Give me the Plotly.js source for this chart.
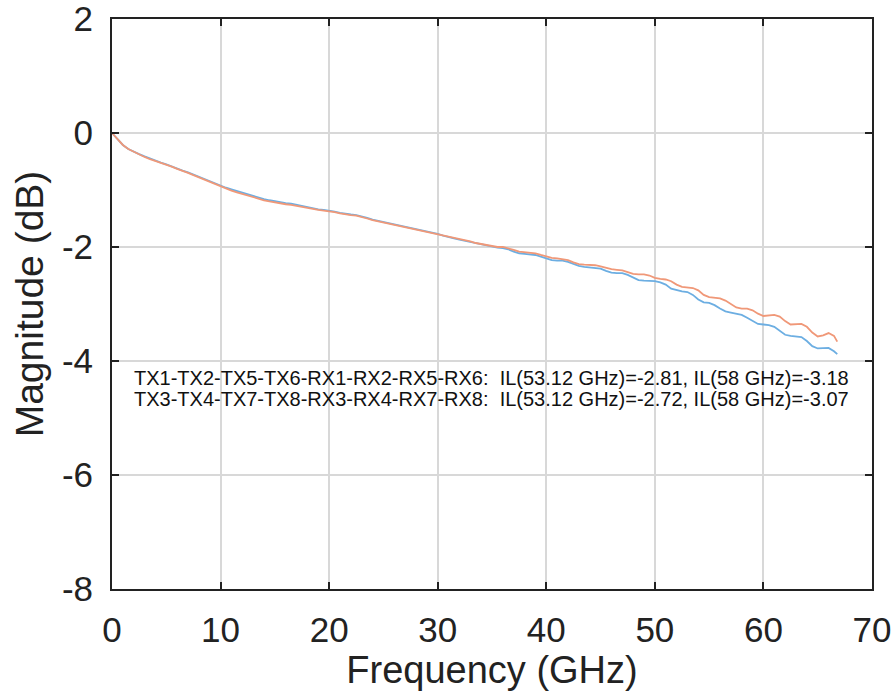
<!DOCTYPE html>
<html>
<head>
<meta charset="utf-8">
<script src="https://cdn.plot.ly/plotly-3.0.1.min.js"></script>
<style>html,body{margin:0;padding:0;background:#fff;}#chart{width:891px;height:698px;}</style>
</head>
<body>
<div id="chart"></div>
<script>
// Frequency (GHz), 0.5 GHz steps
const freq = [0,0.5,1,1.5,2,2.5,3,3.5,4,4.5,5,5.5,6,6.5,7,7.5,8,8.5,9,9.5,10,10.5,11,11.5,12,12.5,13,13.5,14,14.5,15,15.5,16,16.5,17,17.5,18,18.5,19,19.5,20,20.5,21,21.5,22,22.5,23,23.5,24,24.5,25,25.5,26,26.5,27,27.5,28,28.5,29,29.5,30,30.5,31,31.5,32,32.5,33,33.5,34,34.5,35,35.5,36,36.5,37,37.5,38,38.5,39,39.5,40,40.5,41,41.5,42,42.5,43,43.5,44,44.5,45,45.5,46,46.5,47,47.5,48,48.5,49,49.5,50,50.5,51,51.5,52,52.5,53,53.5,54,54.5,55,55.5,56,56.5,57,57.5,58,58.5,59,59.5,60,60.5,61,61.5,62,62.5,63,63.5,64,64.5,65,65.5,66,66.5,66.8];

// TX1-TX2-TX5-TX6-RX1-RX2-RX5-RX6 (blue)
const ilGroupA = [0,-0.11,-0.21,-0.28,-0.33,-0.37,-0.41,-0.45,-0.49,-0.52,-0.55,-0.59,-0.62,-0.66,-0.69,-0.73,-0.77,-0.81,-0.85,-0.89,-0.93,-0.96,-0.99,-1.02,-1.05,-1.08,-1.11,-1.14,-1.16,-1.18,-1.20,-1.22,-1.23,-1.24,-1.26,-1.28,-1.31,-1.33,-1.34,-1.35,-1.36,-1.38,-1.40,-1.42,-1.43,-1.44,-1.46,-1.49,-1.52,-1.54,-1.56,-1.58,-1.61,-1.63,-1.65,-1.67,-1.69,-1.71,-1.73,-1.75,-1.77,-1.80,-1.83,-1.85,-1.87,-1.89,-1.91,-1.94,-1.96,-1.98,-2.00,-2.01,-2.02,-2.04,-2.08,-2.11,-2.12,-2.13,-2.14,-2.17,-2.20,-2.23,-2.24,-2.24,-2.26,-2.30,-2.33,-2.35,-2.36,-2.36,-2.38,-2.42,-2.45,-2.46,-2.46,-2.49,-2.54,-2.58,-2.59,-2.59,-2.60,-2.62,-2.66,-2.73,-2.76,-2.78,-2.79,-2.84,-2.92,-2.97,-2.98,-3.02,-3.08,-3.13,-3.15,-3.17,-3.19,-3.24,-3.30,-3.35,-3.36,-3.37,-3.40,-3.47,-3.54,-3.56,-3.57,-3.58,-3.65,-3.74,-3.78,-3.77,-3.77,-3.83,-3.88];

// TX3-TX4-TX7-TX8-RX3-RX4-RX7-RX8 (orange)
const ilGroupB = [0,-0.11,-0.21,-0.28,-0.33,-0.38,-0.42,-0.46,-0.49,-0.53,-0.56,-0.59,-0.63,-0.66,-0.70,-0.74,-0.78,-0.82,-0.86,-0.90,-0.94,-0.98,-1.01,-1.04,-1.07,-1.10,-1.13,-1.16,-1.18,-1.20,-1.22,-1.23,-1.25,-1.26,-1.28,-1.30,-1.32,-1.34,-1.35,-1.36,-1.37,-1.39,-1.41,-1.43,-1.44,-1.45,-1.47,-1.50,-1.53,-1.55,-1.57,-1.59,-1.62,-1.64,-1.66,-1.68,-1.70,-1.72,-1.74,-1.76,-1.77,-1.79,-1.82,-1.84,-1.86,-1.88,-1.90,-1.93,-1.95,-1.97,-1.99,-2.00,-2.00,-2.02,-2.05,-2.08,-2.09,-2.10,-2.11,-2.14,-2.17,-2.19,-2.20,-2.21,-2.23,-2.27,-2.30,-2.31,-2.31,-2.32,-2.34,-2.37,-2.39,-2.40,-2.41,-2.44,-2.47,-2.48,-2.48,-2.50,-2.54,-2.56,-2.57,-2.60,-2.66,-2.70,-2.71,-2.72,-2.76,-2.84,-2.88,-2.89,-2.90,-2.94,-3.00,-3.06,-3.08,-3.08,-3.11,-3.17,-3.21,-3.20,-3.19,-3.22,-3.30,-3.36,-3.36,-3.35,-3.40,-3.50,-3.57,-3.55,-3.51,-3.56,-3.66];

const xTicks = [0,10,20,30,40,50,60,70];
const yTicks = [-8,-6,-4,-2,0,2];
const noteLines = [
  "TX1-TX2-TX5-TX6-RX1-RX2-RX5-RX6:  IL(53.12 GHz)=-2.81, IL(58 GHz)=-3.18",
  "TX3-TX4-TX7-TX8-RX3-RX4-RX7-RX8:  IL(53.12 GHz)=-2.72, IL(58 GHz)=-3.07"
];

const FONT = "Liberation Sans, Arial, Helvetica, sans-serif";

const traces = [
  {x: freq, y: ilGroupA, type: "scatter", mode: "lines", name: "A",
   line: {color: "rgb(108,174,226)", width: 1.8}},
  {x: freq, y: ilGroupB, type: "scatter", mode: "lines", name: "B",
   line: {color: "rgb(240,152,120)", width: 1.8}}
];

const axisCommon = {
  showline: true, mirror: "ticks", linecolor: "#222", linewidth: 2,
  ticks: "inside", ticklen: 7, tickwidth: 2, tickcolor: "#222",
  showgrid: true, gridcolor: "#d8d8d8", gridwidth: 2, zeroline: false,
  ticklabeloverflow: "allow",
  tickfont: {family: FONT, size: 35, color: "#222"}
};

const layout = {
  width: 891, height: 698,
  margin: {l: 112, r: 19, t: 19, b: 109},
  paper_bgcolor: "#fff", plot_bgcolor: "#fff",
  showlegend: false,
  xaxis: Object.assign({}, axisCommon, {
    range: [0, 70], tickvals: xTicks, ticktext: xTicks.map(String),
    ticklabelstandoff: 9,
    title: {text: "Frequency (GHz)", font: {family: FONT, size: 38, color: "#222"}, standoff: 0}
  }),
  yaxis: Object.assign({}, axisCommon, {
    range: [-8, 2], tickvals: yTicks, ticktext: yTicks.map(String),
    ticklabelstandoff: 10,
    title: {text: "Magnitude (dB)", font: {family: FONT, size: 39, color: "#222"}, standoff: 6}
  }),
  annotations: noteLines.map((t, i) => ({
    text: t, xref: "x", yref: "y", x: 1.8, y: -4.30 - i * 0.36,
    xanchor: "left", yanchor: "middle", showarrow: false,
    font: {family: FONT, size: 20, color: "#111"}
  }))
};

Plotly.newPlot("chart", traces, layout, {displayModeBar: false, staticPlot: true});
</script>
</body>
</html>
